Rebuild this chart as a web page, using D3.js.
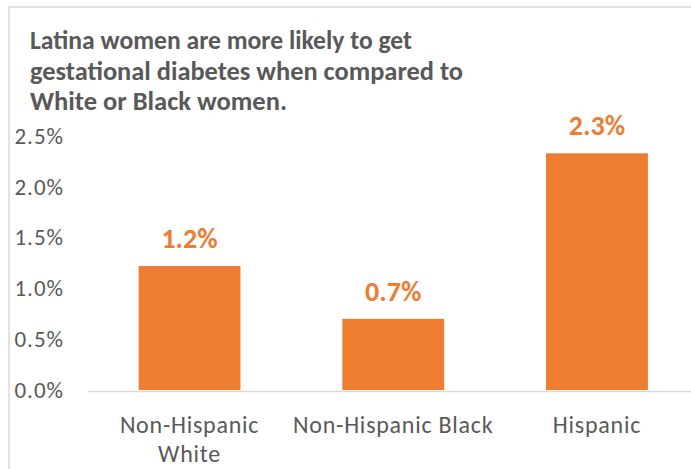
<!DOCTYPE html>
<html>
<head>
<meta charset="utf-8">
<script src="https://cdn.jsdelivr.net/npm/d3@7"></script>
<style>
  html, body { margin: 0; padding: 0; background: #fff; }
  svg { display: block; }
</style>
</head>
<body>
<svg id="chart" width="691" height="469"></svg>
<script>
const titleLines = [
  "Latina women are more likely to get",
  "gestational  diabetes when compared to",
  "White or Black  women."
];
const categories = ["Non-Hispanic White", "Non-Hispanic Black", "Hispanic"];
const categoryLabelLines = [["Non-Hispanic", "White"], ["Non-Hispanic Black"], ["Hispanic"]];
const values = [0.0122, 0.0070, 0.0233];
const valueLabels = ["1.2%", "0.7%", "2.3%"];
const yTicks = [0, 0.005, 0.01, 0.015, 0.02, 0.025];

const svg = d3.select("#chart");
const textColor = "#595959";
const barColor = "#ED7D31";
const font = "Carlito, 'Open Sans', sans-serif";

// chart border
svg.append("rect")
  .attr("x", 9).attr("y", 7)
  .attr("width", 720).attr("height", 500)
  .attr("fill", "none")
  .attr("stroke", "#d9d9d9")
  .attr("stroke-width", 1.5);

// title
const titleWidths = [382, 433, 257];
svg.append("g").selectAll("text")
  .data(titleLines)
  .join("text")
  .attr("x", 30)
  .attr("y", (d, i) => 49 + i * 30.5)
  .attr("textLength", (d, i) => titleWidths[i])
  .attr("lengthAdjust", "spacingAndGlyphs")
  .attr("font-family", font)
  .attr("font-weight", "bold")
  .attr("font-size", 26)
  .attr("fill", textColor)
  .text(d => d);

const x = d3.scaleBand()
  .domain(categories)
  .range([88, 691])
  .paddingInner(0.5)
  .paddingOuter(0.23)
  .align(0.54);

const y = d3.scaleLinear()
  .domain([0, 0.025])
  .range([390, 136]);

// y axis
const yAxis = svg.append("g")
  .attr("transform", "translate(64,0)")
  .call(d3.axisLeft(y).tickValues(yTicks).tickFormat(d3.format(".1%")).tickSize(0).tickPadding(0));
yAxis.select(".domain").remove();
yAxis.selectAll("text")
  .attr("font-family", font)
  .attr("font-size", 23)
  .attr("letter-spacing", 1)
  .attr("fill", textColor);

// bars
svg.append("g").selectAll("rect")
  .data(values)
  .join("rect")
  .attr("x", (d, i) => x(categories[i]))
  .attr("width", x.bandwidth())
  .attr("y", d => y(d))
  .attr("height", d => y(0) - y(d))
  .attr("fill", barColor);

// value labels
svg.append("g").selectAll("text")
  .data(values)
  .join("text")
  .attr("x", (d, i) => x(categories[i]) + x.bandwidth() / 2)
  .attr("y", d => y(d) - 18)
  .attr("text-anchor", "middle")
  .attr("font-family", font)
  .attr("font-weight", "bold")
  .attr("font-size", 28)
  .attr("fill", barColor)
  .text((d, i) => valueLabels[i]);

// x axis
const xAxis = svg.append("g")
  .attr("transform", "translate(0,391)")
  .call(d3.axisBottom(x).tickSize(0).tickSizeOuter(0).tickFormat(""));
xAxis.select(".domain")
  .attr("stroke", "#d9d9d9")
  .attr("stroke-width", 1.5);
xAxis.selectAll(".tick text").remove();
xAxis.selectAll(".tick").each(function(d, i) {
  const t = d3.select(this).append("text")
    .attr("text-anchor", "middle")
    .attr("font-family", font)
    .attr("font-size", 24)
    .attr("letter-spacing", 0.75)
    .attr("fill", textColor);
  categoryLabelLines[i].forEach((line, j) => {
    t.append("tspan").attr("x", 0).attr("y", 42 + j * 29).text(line);
  });
});
</script>
</body>
</html>
